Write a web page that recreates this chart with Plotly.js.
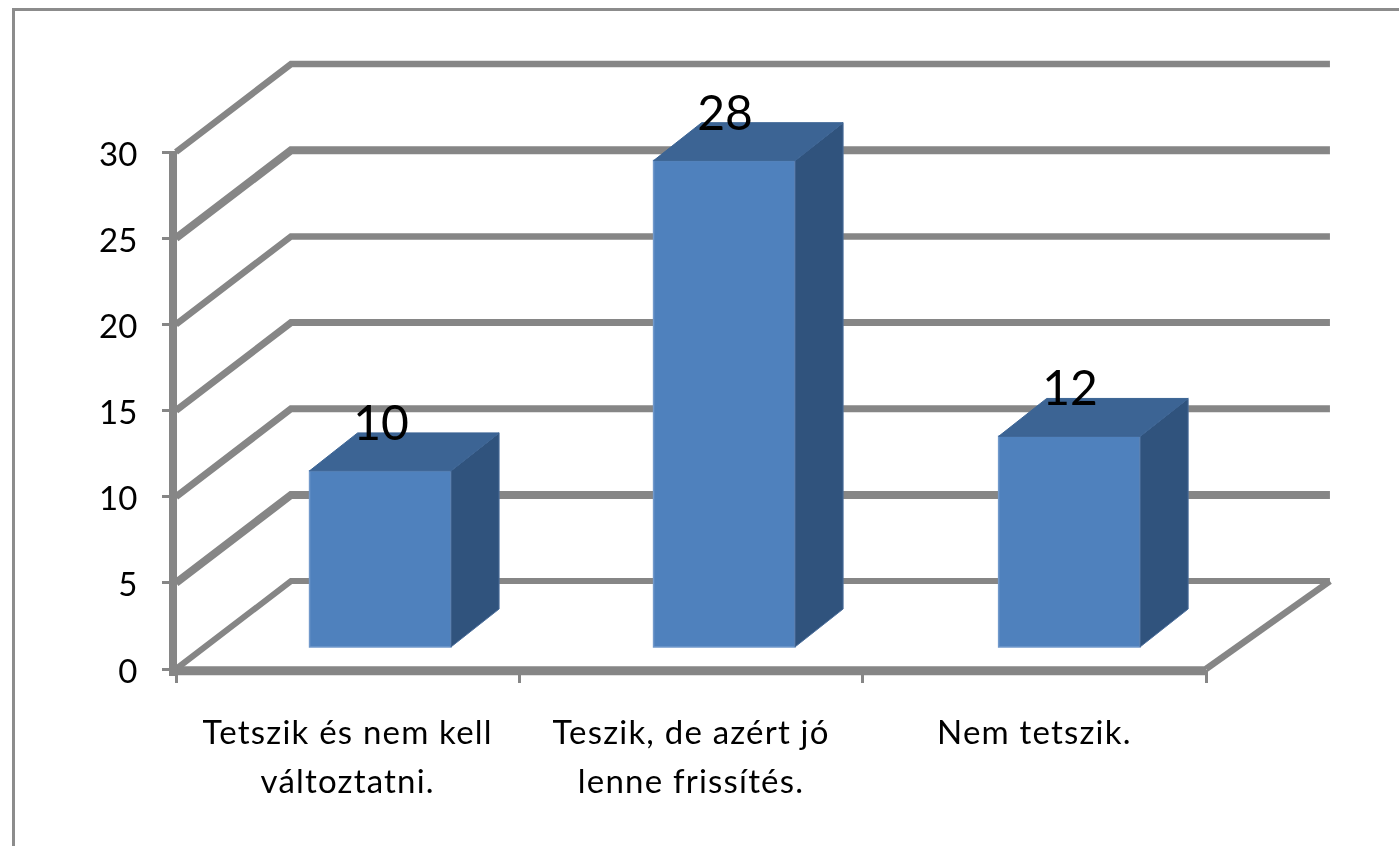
<!DOCTYPE html>
<html>
<head>
<meta charset="utf-8">
<script src="https://cdn.plot.ly/plotly-3.0.1.min.js"></script>
<style>
html,body{margin:0;padding:0;background:#fff;overflow:hidden;width:1399px;height:846px}
#frame{position:absolute;left:12px;top:8px;width:1400px;height:860px;border:3px solid #8c8c8c;box-sizing:border-box}
#chart{position:absolute;left:0;top:0;width:1399px;height:846px;filter:blur(0.6px)}
.xtick text{letter-spacing:1.2px}
</style>
</head>
<body>
<div id="frame"></div>
<div id="chart"></div>
<script>
// Data
const categories = ["Tetszik és nem kell<br>változtatni.", "Teszik, de azért jó<br>lenne frissítés.", "Nem tetszik."];
const values = [10, 28, 12];
const yTicks = [0, 5, 10, 15, 20, 25, 30];
const gridWidths = [6, 8, 7, 7, 6.5, 8, 6.5];

// Pseudo-3D projection, in axis units
const depthX = 0.335, depthY = 5.1;       // back wall offset
const barShifts = [0.095, 0.097, 0.102];  // bar position on the floor
const barWidth = 0.412;
const barBase = 1.28, topLift = 1.5;      // lift of the bar's front face
const labelLift = 2.6;                    // data label sits above the top face
const sideX = 0.14, sideY = 2.2;          // bar depth
const wallEnd = 3.361;

const GRAY = "#868686";
const centers = categories.map((_, i) => i + 0.5);
const barX = centers.map((c, i) => c + barShifts[i]);

const topX = [], topY = [], sideXs = [], sideYs = [];
values.forEach((v, i) => {
  const L = barX[i] - barWidth / 2, R = barX[i] + barWidth / 2, T = v + topLift;
  topX.push(L, R, R + sideX, L + sideX, L, null);
  topY.push(T, T, T + sideY, T + sideY, T, null);
  sideXs.push(R, R + sideX, R + sideX, R, R, null);
  sideYs.push(barBase, barBase + sideY, T + sideY, T, barBase, null);
});

const traces = [
  {type: "bar", x: barX, y: values.map(v => v + topLift - barBase), base: barBase, width: barWidth,
   marker: {color: "#4f81bd", line: {color: "#7199cb", width: 1.5}}, hoverinfo: "skip", showlegend: false},
  {type: "scatter", mode: "lines", x: sideXs, y: sideYs, fill: "toself", fillcolor: "#30537d",
   line: {color: "#4d6f9c", width: 1}, hoverinfo: "skip", showlegend: false},
  {type: "scatter", mode: "lines", x: topX, y: topY, fill: "toself", fillcolor: "#3c6494",
   line: {color: "#3c6494", width: 1}, hoverinfo: "skip", showlegend: false},
  {type: "scatter", mode: "text", x: barX.map(x => x + 0.002), y: values.map(v => v + labelLift),
   text: values.map(String), textposition: "top center", textfont: {family: "Lato", size: 48, color: "#000"},
   hoverinfo: "skip", showlegend: false}
];

// Walls and floor
const shapes = yTicks.map((v, i) => ({
  type: "path", layer: "below", xref: "x", yref: "y",
  path: `M 0 ${v} L ${depthX} ${v + depthY} L ${wallEnd} ${v + depthY}`,
  line: {color: GRAY, width: gridWidths[i]}
}));
shapes.push({type: "line", layer: "below", xref: "x", yref: "y", x0: -0.02, x1: 3, y0: -0.1, y1: -0.1,
  line: {color: GRAY, width: 9}});
shapes.push({type: "line", layer: "below", xref: "x", yref: "y", x0: 3, x1: wallEnd, y0: 0, y1: depthY,
  line: {color: GRAY, width: 6.5}});
shapes.push({type: "line", layer: "below", xref: "x", yref: "y", x0: -0.0087, x1: -0.0087, y0: -0.4, y1: 30,
  line: {color: GRAY, width: 8}});

const pxX = 1030 / 3, pxY = 517 / 30;
const plotL = 150, plotR = 1345, plotT = 40, plotB = 700, originX = 176, originY = 669;

const layout = {
  width: 1399, height: 846,
  margin: {l: plotL, r: 1399 - plotR, t: plotT, b: 846 - plotB, pad: 0},
  paper_bgcolor: "rgba(0,0,0,0)", plot_bgcolor: "rgba(0,0,0,0)",
  showlegend: false, barmode: "overlay",
  font: {family: "Lato", color: "#000"},
  xaxis: {
    range: [(plotL - originX) / pxX, (plotR - originX) / pxX], anchor: "free", position: (plotB - originY) / (plotB - plotT),
    tickmode: "array", tickvals: centers,
    ticktext: categories.map(c => `<span style="font-size:33px">${c.replace("<br>", '</span><br><span style="font-size:33px">')}</span>`),
    ticks: "outside", ticklen: 0.1, tickwidth: 0.1, tickcolor: "rgba(0,0,0,0)",
    minor: {tickmode: "array", tickvals: [0, 1, 2, 3], ticks: "outside", ticklen: 13, tickwidth: 3, tickcolor: GRAY},
    tickfont: {family: "Lato", size: 38, color: "#000"}, tickangle: 0,
    ticklabelstandoff: 28, showgrid: false, zeroline: false, showline: false, fixedrange: true
  },
  yaxis: {
    range: [(originY - plotB) / pxY, (originY - plotT) / pxY], anchor: "free", position: (originX - plotL) / (plotR - plotL),
    tickmode: "array", tickvals: yTicks, ticktext: yTicks.map(String),
    ticks: "outside", ticklen: 14, tickwidth: 3, tickcolor: GRAY,
    tickfont: {family: "Lato", size: 33, color: "#000"},
    ticklabelstandoff: 18, ticklabelshift: 2,
    showgrid: false, zeroline: false, showline: false, fixedrange: true
  },
  shapes: shapes
};

Plotly.newPlot("chart", traces, layout, {displayModeBar: false, staticPlot: true});
</script>
</body>
</html>
